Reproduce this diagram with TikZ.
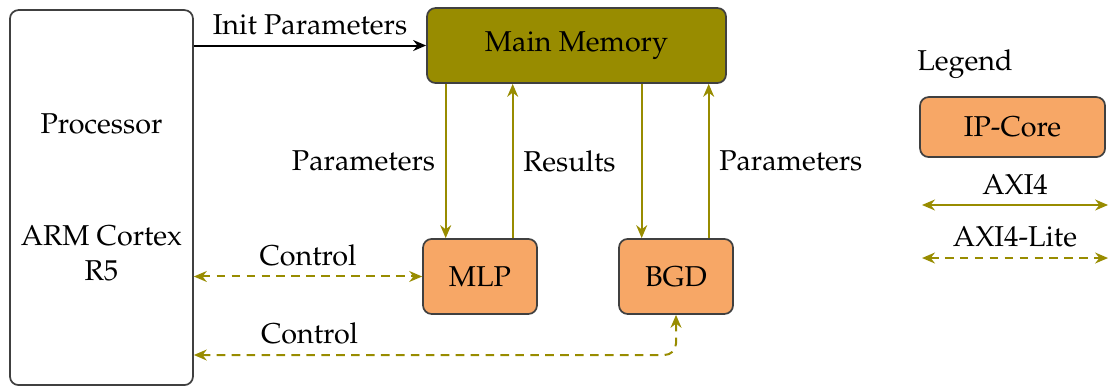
\documentclass[tikz,border=0pt]{standalone}
\usepackage[T1]{fontenc}
\usepackage{mathpazo}
\usetikzlibrary{arrows.meta,positioning,calc}
\definecolor{axiolive}{RGB}{152,140,0}
\definecolor{coreorange}{RGB}{247,167,102}

\begin{document}
\begin{tikzpicture}[
    block/.style={draw=black!75, semithick, rounded corners=3pt, align=center, inner sep=0pt},
    ipcore/.style={block, fill=coreorange, minimum width=1.395cm, minimum height=0.918cm},
    axi/.style={draw=axiolive, text=black, line width=0.7pt, -{Stealth[length=4.5pt,width=3.8pt]}},
    axibi/.style={axi, {Stealth[length=4.5pt,width=3.8pt]}-{Stealth[length=4.5pt,width=3.8pt]}},
    axilite/.style={axibi, dash pattern=on 3pt off 2.2pt}
  ]
    \useasboundingbox (0,0) rectangle (13.586,4.737);

    % Processor
    \node[block, minimum width=2.24cm, minimum height=4.59cm] (proc) at (1.242,2.319)
      {Processor\\[27pt]ARM Cortex\\R5};

    % Main memory and the two IP cores
    \node[block, fill=axiolive, minimum width=3.66cm, minimum height=0.918cm] (mem) at (7.056,4.18) {Main Memory};
    \node[ipcore] (mlp) at (5.875,1.353) {MLP};
    \node[ipcore] (bgd) at (8.274,1.353) {BGD};

    % Init parameters from the processor
    \draw[line width=0.7pt, -{Stealth[length=4.5pt,width=3.8pt]}] (proc.east |- mem.west) -- node[above]{Init Parameters} (mem.west);

    % AXI4 links between memory and cores
    \draw[axi] ([xshift=-0.42cm]mlp.north |- mem.south) -- node[left]{Parameters} ([xshift=-0.42cm]mlp.north);
    \draw[axi] ([xshift=0.4cm]mlp.north) -- node[right]{Results} ([xshift=0.4cm]mlp.north |- mem.south);
    \draw[axi] ([xshift=-0.42cm]bgd.north |- mem.south) -- ([xshift=-0.42cm]bgd.north);
    \draw[axi] ([xshift=0.4cm]bgd.north) -- node[right]{Parameters} ([xshift=0.4cm]bgd.north |- mem.south);

    % AXI4-Lite control links
    \coordinate (ctrl) at (proc.east |- 0,0.392);
    \draw[axilite] (proc.east |- mlp.west) -- node[above]{Control} (mlp.west);
    \draw[axilite, rounded corners=4pt] (bgd.south) |- node[pos=0.88, above]{Control} (ctrl);

    % Legend
    \node (legend) at (11.81,3.95) {Legend};
    \node[ipcore, minimum width=2.264cm, minimum height=0.734cm] (legcore) at (12.393,3.182) {IP-Core};
    \coordinate (axiA) at (11.285,2.228);
    \coordinate (axiB) at (13.562,2.228);
    \draw[axibi] (axiA) -- node[above]{AXI4} (axiB);
    \coordinate (liteA) at (11.285,1.579);
    \coordinate (liteB) at (13.562,1.579);
    \draw[axilite] (liteA) -- node[above]{AXI4-Lite} (liteB);
  \end{tikzpicture}
\end{document}
